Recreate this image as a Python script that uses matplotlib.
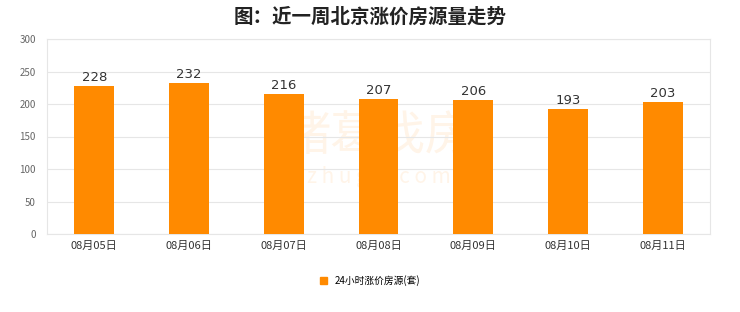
import matplotlib
matplotlib.use("Agg")
import matplotlib.pyplot as plt
from matplotlib.patches import Patch

plt.rcParams["font.family"] = ["Noto Sans CJK SC", "DejaVu Sans"]

dates  = ["08月05日", "08月06日", "08月07日", "08月08日", "08月09日", "08月10日", "08月11日"]
counts = [228, 232, 216, 207, 206, 193, 203]
yticks = [0, 50, 100, 150, 200, 250, 300]

BAR  = "#FF8A00"
GRID = "#E6E6E6"

fig = plt.figure(figsize=(7.4, 3.12), dpi=100)
ax = fig.add_axes([0.0635, 0.25, 0.896, 0.625])

x = range(len(dates))
ax.bar(x, counts, width=0.42, color=BAR, zorder=3)
for xi, v in zip(x, counts):
    ax.text(xi, v + 3, str(v), ha="center", va="bottom", fontsize=9.5,
            color="#333333", family="DejaVu Sans")

ax.set_xlim(-0.5, len(dates) - 0.5)
ax.set_ylim(0, 300)
ax.set_yticks(yticks)
ax.set_xticks(list(x))
ax.set_xticklabels(dates, fontsize=8, color="#333333")
ax.tick_params(axis="y", labelsize=7, colors="#666666", length=0, pad=8)
ax.tick_params(axis="x", length=0, pad=5)
ax.grid(axis="y", color=GRID, lw=0.8, zorder=0)
for s in ["top", "right", "left", "bottom"]:
    ax.spines[s].set_color(GRID)
    ax.spines[s].set_linewidth(0.8)

# faint watermark, behind the bars
ax.text(0.5, 0.5, "诸葛找房", transform=ax.transAxes, ha="center", va="center",
        fontsize=34, color=BAR, alpha=0.09, zorder=1)
ax.text(0.5, 0.29, "z h u g e . c o m", transform=ax.transAxes, ha="center",
        va="center", fontsize=15, color=BAR, alpha=0.09, zorder=1)

fig.suptitle("图：近一周北京涨价房源量走势", y=0.975, fontsize=14,
             fontweight="bold", color="#222222")

fig.legend(handles=[Patch(color=BAR, label="24小时涨价房源(套)")],
           loc="center", bbox_to_anchor=(0.5, 0.1), frameon=False,
           fontsize=7, handlelength=0.7, handleheight=0.7, handletextpad=0.8)

fig.savefig("out.png", dpi=100)
